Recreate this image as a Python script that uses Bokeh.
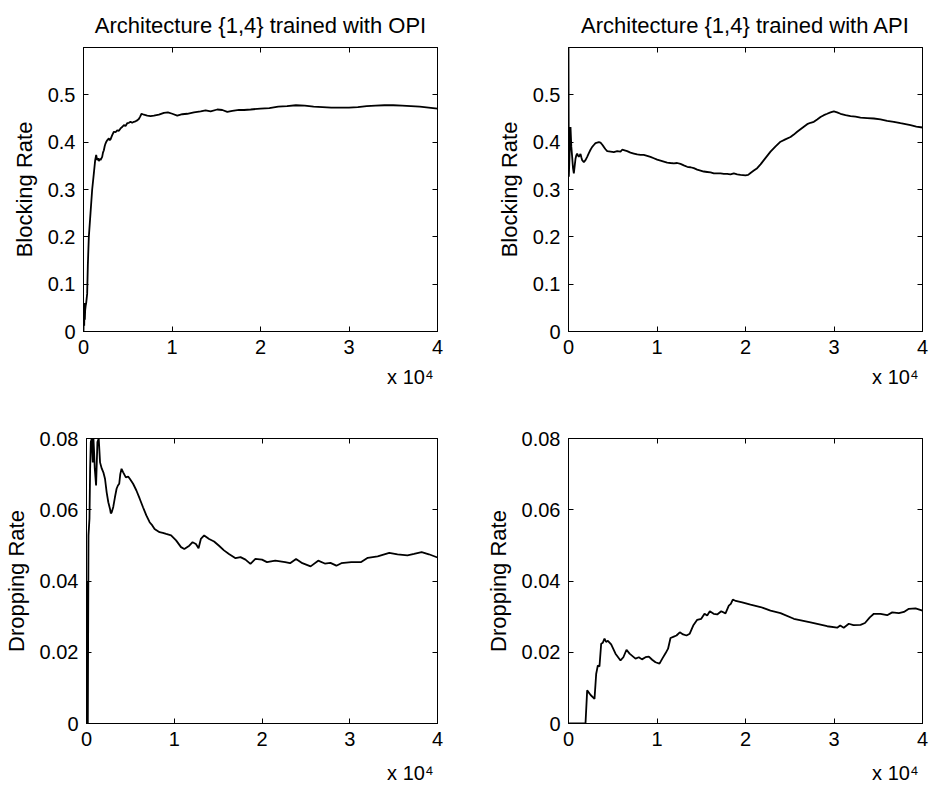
from bokeh.plotting import figure
from bokeh.layouts import column, row
from bokeh.models import Range1d, FixedTicker, LinearAxis, Title
from bokeh.embed import file_html
from bokeh.resources import INLINE

FONT = "Liberation Sans"

# ---------------- data ----------------
x_ticks = [0, 10000, 20000, 30000, 40000]
x_tick_labels = ["0", "1", "2", "3", "4"]
block_ticks = [0, 0.1, 0.2, 0.3, 0.4, 0.5]
block_tick_labels = ["0", "0.1", "0.2", "0.3", "0.4", "0.5"]
drop_ticks = [0, 0.02, 0.04, 0.06, 0.08]
drop_tick_labels = ["0", "0.02", "0.04", "0.06", "0.08"]
titles = ["Architecture {1,4} trained with OPI", "Architecture {1,4} trained with API"]
block_label = "Blocking Rate"
drop_label = "Dropping Rate"
exponent_text = "x 10\u2074"

opi_block_x = [0, 40, 80, 113, 150, 189, 250, 302, 415, 490, 603, 792, 980, 1169, 1320, 1433, 1546, 1640,
               1734, 1830, 1923, 2111, 2200, 2300, 2400, 2488, 2580, 2677, 2865, 2960, 3054, 3242, 3431, 3620,
               3808, 4000, 4185, 4370, 4562, 4750, 4939, 5130, 5316, 5500, 5693, 5880, 6070, 6250, 6371, 6560,
               6824, 7201, 7578, 7955, 8520, 9086, 9538, 10028, 10594, 11159, 11725, 12479, 13233, 13798, 14364,
               15118, 15683, 16249, 16814, 17568, 18134, 18888, 20000, 21000, 22000, 23000, 24000, 25000, 26000,
               27000, 28000, 29000, 30000, 31000, 32000, 33000, 34000, 35000, 36000, 37000, 38000, 39000, 40000]
opi_block_y = [0.000, 0.050, 0.012, 0.060, 0.025, 0.045, 0.055, 0.060, 0.080, 0.140, 0.200, 0.250, 0.300, 0.334,
               0.362, 0.373, 0.362, 0.366, 0.360, 0.365, 0.362, 0.369, 0.378, 0.383, 0.392, 0.397, 0.401, 0.404,
               0.408, 0.404, 0.406, 0.415, 0.422, 0.421, 0.425, 0.424, 0.429, 0.432, 0.436, 0.434, 0.440, 0.441,
               0.443, 0.441, 0.443, 0.444, 0.446, 0.449, 0.453, 0.460, 0.458, 0.456, 0.455, 0.456, 0.458, 0.462,
               0.463, 0.460, 0.456, 0.459, 0.460, 0.463, 0.465, 0.467, 0.465, 0.469, 0.468, 0.464, 0.466, 0.468,
               0.468, 0.469, 0.471, 0.472, 0.475, 0.476, 0.478, 0.477, 0.475, 0.474, 0.473, 0.473, 0.473, 0.474,
               0.476, 0.477, 0.478, 0.478, 0.477, 0.476, 0.475, 0.473, 0.471]

api_block_x = [0, 38, 226, 320, 414, 510, 603, 700, 791, 880, 979, 1070, 1168, 1260, 1356, 1450, 1545, 1640, 1733,
               1920, 2109, 2300, 2486, 2680, 2863, 3050, 3240, 3430, 3616, 3800, 3993, 4181, 4370, 4750, 5123,
               5500, 5876, 6064, 6253, 6630, 7000, 7383, 7760, 8136, 8500, 8890, 9260, 9643, 10020, 10396, 10770,
               11149, 11520, 11903, 12280, 12656, 13030, 13409, 13780, 14163, 14540, 14916, 15290, 15669, 16050,
               16422, 16800, 17176, 17550, 17929, 18300, 18682, 19060, 19436, 20001, 20300, 20566, 20940, 21319,
               21700, 22072, 22450, 22826, 23400, 23956, 24500, 25086, 25460, 25839, 26400, 26969, 27340, 27722,
               28100, 28475, 28850, 29229, 29600, 29982, 30350, 30735, 31300, 31865, 32430, 32995, 33750, 34502,
               35250, 36008, 36760, 37515, 38080, 38645, 39300, 40000]
api_block_y = [0.600, 0.327, 0.432, 0.390, 0.369, 0.345, 0.334, 0.350, 0.365, 0.372, 0.376, 0.372, 0.369, 0.372,
               0.375, 0.368, 0.362, 0.360, 0.358, 0.362, 0.369, 0.377, 0.384, 0.390, 0.394, 0.398, 0.399, 0.400,
               0.399, 0.395, 0.390, 0.385, 0.381, 0.380, 0.379, 0.381, 0.380, 0.384, 0.383, 0.381, 0.378, 0.376,
               0.374, 0.373, 0.373, 0.371, 0.369, 0.366, 0.363, 0.361, 0.359, 0.357, 0.356, 0.355, 0.356, 0.354,
               0.351, 0.348, 0.347, 0.345, 0.342, 0.340, 0.338, 0.337, 0.336, 0.334, 0.334, 0.334, 0.333, 0.333,
               0.332, 0.334, 0.332, 0.331, 0.330, 0.331, 0.335, 0.340, 0.345, 0.353, 0.362, 0.371, 0.380, 0.391,
               0.401, 0.406, 0.411, 0.416, 0.422, 0.430, 0.438, 0.441, 0.443, 0.448, 0.453, 0.457, 0.460, 0.463,
               0.465, 0.463, 0.460, 0.457, 0.455, 0.454, 0.452, 0.451, 0.450, 0.448, 0.445, 0.443, 0.440, 0.438,
               0.436, 0.433, 0.431]

opi_drop_x = [0, 40, 70, 150, 226, 339, 414, 490, 603, 716, 791, 870, 942, 1093, 1243, 1394, 1544, 1733, 1921,
              2109, 2298, 2486, 2674, 2770, 2863, 3051, 3240, 3428, 3580, 3729, 3850, 3993, 4181, 4482, 4746, 4934,
              5311, 5687, 6064, 6441, 6818, 7194, 7500, 7759, 8324, 8700, 9078, 9643, 10208, 10773, 11149, 11714,
              12091, 12468, 12769, 13033, 13409, 13974, 14539, 15104, 15669, 16234, 16988, 17553, 18118, 18683,
              19248, 20002, 20566, 21508, 22637, 23200, 23881, 24600, 25538, 26403, 27157, 27800, 28476, 29041,
              30171, 31301, 32054, 33184, 34502, 35445, 36575, 37328, 38194, 39022, 40000]
opi_drop_y = [0.0400, 0.0200, 0.0000, 0.0000, 0.0528, 0.0575, 0.0716, 0.0790, 0.0800, 0.0733, 0.0800, 0.0760,
              0.0716, 0.0668, 0.0790, 0.0800, 0.0733, 0.0716, 0.0705, 0.0687, 0.0649, 0.0621, 0.0603, 0.0590,
              0.0592, 0.0608, 0.0635, 0.0659, 0.0668, 0.0673, 0.0700, 0.0715, 0.0705, 0.0691, 0.0693, 0.0687,
              0.0673, 0.0654, 0.0631, 0.0607, 0.0584, 0.0565, 0.0556, 0.0546, 0.0537, 0.0535, 0.0532, 0.0528,
              0.0514, 0.0495, 0.0490, 0.0499, 0.0509, 0.0504, 0.0492, 0.0518, 0.0528, 0.0518, 0.0511, 0.0499,
              0.0486, 0.0476, 0.0464, 0.0467, 0.0460, 0.0448, 0.0462, 0.0460, 0.0453, 0.0457, 0.0453, 0.0450,
              0.0462, 0.0450, 0.0441, 0.0457, 0.0449, 0.0451, 0.0443, 0.0450, 0.0453, 0.0453, 0.0465, 0.0469,
              0.0479, 0.0475, 0.0472, 0.0476, 0.0481, 0.0475, 0.0466]

api_drop_x = [0, 1921, 2109, 2500, 2938, 3127, 3315, 3500, 3693, 3880, 4068, 4250, 4450, 4822, 5311, 5876, 6200,
              6554, 6900, 7571, 7950, 8300, 8701, 9080, 9454, 9830, 10283, 10600, 10961, 11250, 11526, 11900, 12200,
              12577, 12950, 13334, 13700, 14091, 14543, 15000, 15368, 15670, 15970, 16400, 16803, 17255, 17741,
              18114, 18340, 18566, 18900, 19628, 20566, 21696, 22826, 23956, 25460, 27346, 29229, 30359, 30700,
              31100, 31672, 32200, 32996, 33500, 34045, 34502, 35256, 36008, 36577, 37329, 37900, 38460, 39212, 40000]
api_drop_y = [0, 0, 0.0093, 0.0080, 0.0069, 0.0139, 0.0163, 0.0160, 0.0224, 0.0227, 0.0238, 0.0229, 0.0232,
              0.0222, 0.0196, 0.0177, 0.0186, 0.0207, 0.0196, 0.0182, 0.0186, 0.0180, 0.0186, 0.0188, 0.0179,
              0.0172, 0.0168, 0.0182, 0.0197, 0.0210, 0.0240, 0.0244, 0.0247, 0.0256, 0.0250, 0.0247, 0.0252,
              0.0275, 0.0291, 0.0294, 0.0308, 0.0303, 0.0315, 0.0308, 0.0306, 0.0315, 0.0309, 0.0331, 0.0336,
              0.0348, 0.0344, 0.0340, 0.0334, 0.0327, 0.0317, 0.0310, 0.0294, 0.0284, 0.0273, 0.0269, 0.0275,
              0.0269, 0.0280, 0.0276, 0.0277, 0.0282, 0.0298, 0.0308, 0.0308, 0.0304, 0.0312, 0.0310, 0.0313,
              0.0322, 0.0323, 0.0317]

# ---------------- layout ----------------
FRAME_W, FRAME_H = 354, 285
X_MAX = 40000


def style_axis(ax, ticks, labels, show_labels):
    ax.ticker = FixedTicker(ticks=ticks)
    ax.major_tick_in = 5
    ax.major_tick_out = 0
    ax.minor_tick_in = 0
    ax.minor_tick_out = 0
    ax.axis_line_color = "black"
    ax.major_tick_line_color = "black"
    ax.major_label_text_font = FONT
    ax.major_label_text_color = "black"
    if show_labels:
        ax.major_label_overrides = dict(zip(ticks, labels))
        ax.major_label_text_font_size = "20px"
        ax.major_label_standoff = 8
    else:
        ax.major_label_overrides = {t: "" for t in ticks}
        ax.major_label_text_font_size = "2px"
        ax.major_label_standoff = 0


def panel(xs, ys, ymax, yticks, ylabels, ylabel, title, width, height, left, top, exp_standoff):
    right = width - left - FRAME_W
    bottom = height - top - FRAME_H
    p = figure(width=width, height=height, x_range=Range1d(0, X_MAX), y_range=Range1d(0, ymax),
               output_backend="svg", toolbar_location=None,
               min_border_left=left, min_border_right=right, min_border_top=top, min_border_bottom=bottom)
    p.grid.visible = False
    p.outline_line_color = "black"
    p.outline_line_width = 1
    p.background_fill_color = "white"
    p.border_fill_color = "white"

    bottom_ax = p.below[0]
    left_ax = p.left[0]

    style_axis(bottom_ax, x_ticks, x_tick_labels, True)
    style_axis(left_ax, yticks, ylabels, True)
    left_ax.axis_label = ylabel
    left_ax.axis_label_text_font = FONT
    left_ax.axis_label_text_font_size = "22px"
    left_ax.axis_label_text_font_style = "normal"
    left_ax.axis_label_text_color = "black"
    left_ax.axis_label_standoff = 8

    top_ax = LinearAxis()
    style_axis(top_ax, x_ticks, x_tick_labels, False)
    p.add_layout(top_ax, "above")
    right_ax = LinearAxis()
    style_axis(right_ax, yticks, ylabels, False)
    p.add_layout(right_ax, "right")

    if title:
        p.title.text = title
        p.title.align = "center"
        p.title.text_font = FONT
        p.title.text_font_size = "22px"
        p.title.text_font_style = "normal"
        p.title.text_color = "black"
        p.title.standoff = 20

    # exponent note "x 10^4", right-aligned under the bottom axis
    exp_title = Title(text=exponent_text, align="right", offset=4, standoff=exp_standoff,
                      text_font=FONT, text_font_size="20px", text_font_style="normal", text_color="black")
    p.add_layout(exp_title, "below")

    p.line(xs, ys, line_color="black", line_width=1.8)
    return p


p1 = panel(opi_block_x, opi_block_y, 0.6, block_ticks, block_tick_labels, block_label, titles[0],
           465, 395, 83, 47, 15)
p2 = panel(api_block_x, api_block_y, 0.6, block_ticks, block_tick_labels, block_label, titles[1],
           466, 395, 103, 47, 15)
p3 = panel(opi_drop_x, opi_drop_y, 0.08, drop_ticks, drop_tick_labels, drop_label, None,
           465, 400, 83, 43, 22)
p4 = panel(api_drop_x, api_drop_y, 0.08, drop_ticks, drop_tick_labels, drop_label, None,
           466, 400, 103, 43, 22)

layout = column(row(p1, p2), row(p3, p4))
open("out.html", "w").write(file_html(layout, INLINE))
